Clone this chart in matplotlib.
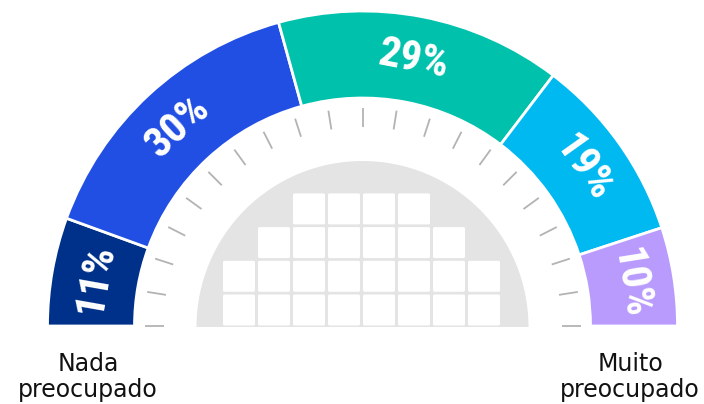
import numpy as np
import matplotlib.pyplot as plt
from matplotlib.patches import Wedge, FancyBboxPatch

# Share of respondents per level of concern
values = [11, 30, 29, 19, 10]
labels = ['11%', '30%', '29%', '19%', '10%']
colors = ['#00318a', '#224fe3', '#00c1ac', '#00b9f1', '#b89bfc']
end_labels = ['Nada\npreocupado', 'Muito\npreocupado']

# Squares in the grey dome, bottom row first
row_counts = [8, 8, 6, 4]

W, H = 704, 404
cx, cy = 362.5, 404 - 326
r_out, r_in = 315, 228

fig = plt.figure(figsize=(W / 100, H / 100), dpi=100)
ax = fig.add_axes([0, 0, 1, 1])
ax.set_xlim(0, W)
ax.set_ylim(0, H)
ax.set_aspect('equal')
ax.axis('off')

bold_font = ['Liberation Sans Narrow', 'Roboto Condensed', 'DejaVu Sans']

# gauge segments, running from left (180 deg) to right (0 deg)
frac = np.array(values) / sum(values)
edges = 180 - np.concatenate([[0], np.cumsum(frac) * 180])
for i, (val, lab, col) in enumerate(zip(values, labels, colors)):
    t1, t2 = edges[i + 1], edges[i]
    ax.add_patch(Wedge((cx, cy), r_out, t1, t2, width=r_out - r_in,
                       facecolor=col, edgecolor='white', linewidth=2))
    mid = np.radians((t1 + t2) / 2)
    rm = (r_out + r_in) / 2
    ax.text(cx + rm * np.cos(mid), cy + rm * np.sin(mid), lab,
            rotation=np.degrees(mid) - 90, rotation_mode='anchor',
            ha='center', va='center', color='white', fontsize=31,
            fontweight='bold', fontstyle='normal', family=bold_font)

# tick marks inside the gauge
for a in np.radians(np.linspace(0, 180, 21)):
    ax.plot([cx + 199 * np.cos(a), cx + 218 * np.cos(a)],
            [cy + 199 * np.sin(a), cy + 218 * np.sin(a)],
            color='#b3b3b3', lw=1.3, solid_capstyle='butt')

# grey dome with the grid of squares
ax.add_patch(Wedge((cx, cy - 1), 166, 0, 180, facecolor='#e4e4e4', edgecolor='none'))
sq_w, sq_h, pitch_x, pitch_y = 32, 31, 35, 33.7
for row, n in enumerate(row_counts):
    x0 = 361.5 - (n * pitch_x - (pitch_x - sq_w)) / 2
    y0 = cy + 0.5 + row * pitch_y
    for k in range(n):
        ax.add_patch(FancyBboxPatch((x0 + k * pitch_x + 1.5, y0 + 1.5), sq_w - 3, sq_h - 3,
                                    boxstyle='round,pad=1.5', facecolor='white',
                                    edgecolor='none'))

# scale end captions
ax.text(88, 404 - 352, end_labels[0], ha='center', va='top', fontsize=17,
        linespacing=1.1, color='#111111')
ax.text(630, 404 - 352, end_labels[1], ha='center', va='top', fontsize=17,
        linespacing=1.1, color='#111111')

fig.savefig('out.png', dpi=100)
